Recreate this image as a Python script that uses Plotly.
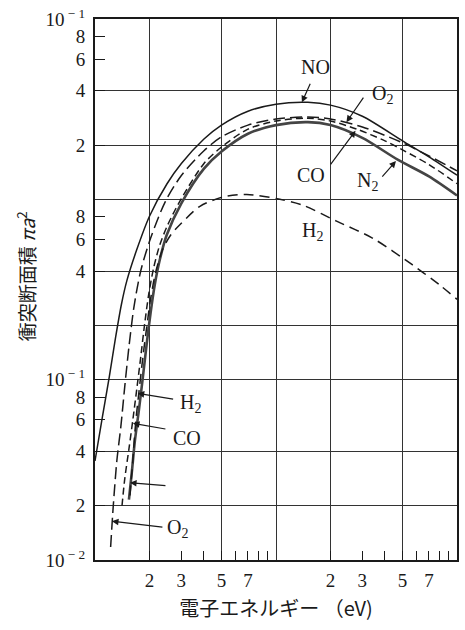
import math
import plotly.graph_objects as go

# Electron energy (eV) and ionization cross-section (pi a^2 units)
no_energy = [10, 11, 12, 13, 14, 15, 17, 20, 25, 30, 40, 50, 70, 100, 150, 200, 300, 500, 700, 1000]
no_sigma = [0.0354, 0.0626, 0.104, 0.172, 0.262, 0.354, 0.525, 0.806, 1.22, 1.58, 2.16, 2.58,
            3.08, 3.37, 3.45, 3.33, 2.89, 2.11, 1.72, 1.36]

o2_energy = [12.2, 12.6, 13.2, 13.9, 14.6, 15.4, 16.4, 17.9, 20.3, 24.5, 30, 40, 50, 70, 100,
             150, 200, 300, 500, 700, 1000]
o2_sigma = [0.0118, 0.0196, 0.0354, 0.0552, 0.0915, 0.152, 0.252, 0.402, 0.610, 0.975, 1.355,
            1.86, 2.22, 2.58, 2.79, 2.86, 2.79, 2.52, 2.06, 1.74, 1.44]

co_energy = [14.1, 14.6, 15.4, 16.2, 17.0, 17.9, 18.8, 19.8, 21.1, 22.8, 25.2, 30, 40, 50, 70,
             100, 150, 200, 280, 400, 500, 700, 1000]
co_sigma = [0.0200, 0.0282, 0.0413, 0.0603, 0.0881, 0.134, 0.203, 0.297, 0.418, 0.559, 0.720,
            1.01, 1.58, 1.95, 2.45, 2.72, 2.82, 2.72, 2.45, 2.11, 1.88, 1.56, 1.22]

n2_energy = [15.4, 16.0, 16.6, 17.5, 18.4, 19.3, 20.3, 21.4, 22.8, 24.9, 30, 40, 50, 70, 100,
             150, 200, 300, 470, 700, 1000]
n2_sigma = [0.0216, 0.0312, 0.0456, 0.0684, 0.104, 0.158, 0.236, 0.337, 0.462, 0.634, 0.951,
            1.48, 1.84, 2.31, 2.58, 2.68, 2.58, 2.19, 1.66, 1.34, 1.05]

h2_energy = [15.6, 16.2, 16.8, 17.5, 18.4, 19.3, 20.3, 21.6, 23.6, 26.2, 29.7, 38, 51, 69, 105,
             141, 216, 341, 566, 796, 1000]
h2_sigma = [0.0228, 0.0363, 0.0588, 0.0859, 0.134, 0.195, 0.282, 0.392, 0.525, 0.634, 0.729,
            0.915, 1.03, 1.065, 1.00, 0.927, 0.757, 0.610, 0.434, 0.337, 0.279]

# Axis ticks
x_tickvals = [20, 30, 40, 50, 60, 70, 80, 90, 200, 300, 400, 500, 600, 700, 800, 900]
x_ticktext = ["2", "3", "", "5", "", "7", "", "", "2", "3", "", "5", "", "7", "", ""]
x_gridvals = [20, 50, 100, 200, 500]

y_tickvals = [0.01, 0.02, 0.04, 0.06, 0.08, 0.1, 0.4, 0.6, 0.8, 2, 4, 6, 8, 10]
y_ticktext = ["10<sup>\u00a0−\u00a02</sup>", "2", "4", "6", "8", "10<sup>\u00a0−\u00a01</sup>",
              "4", "6", "8", "2", "4", "6", "8", "10<sup>\u00a0−\u00a01</sup>"]
y_gridvals = [0.02, 0.04, 0.1, 0.2, 0.4, 1, 2, 4]

# Curve labels: (text, energy eV, sigma)
labels = [
    ("NO", 166, 5.45),
    ("O<sub>2</sub>", 387, 3.82),
    ("CO", 156, 1.37),
    ("N<sub>2</sub>", 320, 1.256),
    ("H<sub>2</sub>", 160, 0.667),
    ("H<sub>2</sub>", 33.6, 0.0738),
    ("CO", 32.4, 0.0474),
    ("O<sub>2</sub>", 28.6, 0.0150),
]
# Leader arrows: (tip energy eV, tip sigma, tail dx px, tail dy px)
arrows = [
    (139, 3.45, 9, -20),
    (245, 2.68, 18, -26),
    (275, 2.40, -26, 35),
    (460, 1.63, -15, 17),
    (17.2, 0.084, 37, 6),
    (16.2, 0.0573, 34, 6),
    (15.6, 0.0268, 37, 3),
    (12.4, 0.0164, 52, 6),
]

ink = "#1a1a1a"
fig = go.Figure()
series = [
    (no_energy, no_sigma, dict(color=ink, width=1.5, dash="solid")),
    (o2_energy, o2_sigma, dict(color=ink, width=1.5, dash="12px,5px")),
    (co_energy, co_sigma, dict(color=ink, width=1.5, dash="7px,4px")),
    (n2_energy, n2_sigma, dict(color="#444", width=2.6, dash="solid")),
    (h2_energy, h2_sigma, dict(color=ink, width=1.5, dash="10px,6px")),
]
for ex, sy, ln in series:
    fig.add_trace(go.Scatter(x=ex, y=sy, mode="lines", line=dict(shape="spline", smoothing=0.8, **ln),
                             showlegend=False, hoverinfo="skip"))

serif = "Liberation Serif, Times New Roman, serif"
# annotations on log axes take log10 positions
for txt, ex, sy in labels:
    fig.add_annotation(x=math.log10(ex), y=math.log10(sy), xref="x", yref="y", text=txt,
                       showarrow=False, font=dict(family=serif, size=20, color=ink))
for ex, sy, dx, dy in arrows:
    fig.add_annotation(x=math.log10(ex), y=math.log10(sy), xref="x", yref="y", text="",
                       showarrow=True, ax=dx, ay=dy, arrowhead=2, arrowsize=1.1, arrowwidth=1.2,
                       arrowcolor=ink, standoff=0)

# y-axis title
fig.add_annotation(x=-0.19, y=0.525, xref="paper", yref="paper", textangle=-90,
                   xanchor="center", yanchor="middle",
                   text="衝突断面積 <i>πa</i><sup>2</sup>", showarrow=False,
                   font=dict(family="Noto Sans CJK JP", size=19, color=ink))

fig.update_xaxes(
    type="log", range=[1, 3], showline=True, mirror=True, linecolor=ink, linewidth=2,
    tickmode="array", tickvals=x_tickvals, ticktext=x_ticktext, ticks="inside", ticklen=9,
    tickcolor=ink, tickwidth=1.3, showgrid=False, zeroline=False,
    tickfont=dict(family=serif, size=19, color=ink), ticklabelstandoff=2,
    minor=dict(tickmode="array", tickvals=x_gridvals, showgrid=True, gridcolor="#333",
               gridwidth=1.3, ticks=""),
    title=dict(text="電子エネルギー （eV)", font=dict(family="Noto Sans CJK JP", size=20, color=ink),
               standoff=12),
)
fig.update_yaxes(
    type="log", range=[-2, 1], showline=True, mirror=True, linecolor=ink, linewidth=2,
    tickmode="array", tickvals=y_tickvals, ticktext=y_ticktext, ticks="inside", ticklen=10,
    tickcolor=ink, tickwidth=1.3, showgrid=False, zeroline=False,
    tickfont=dict(family=serif, size=19, color=ink), ticklabelstandoff=4,
    minor=dict(tickmode="array", tickvals=y_gridvals, showgrid=True, gridcolor="#333",
               gridwidth=1.3, ticks=""),
)
fig.update_layout(width=465, height=630, margin=dict(l=95, r=6, t=14, b=70),
                  paper_bgcolor="white", plot_bgcolor="white")
fig.write_html("out.html")
